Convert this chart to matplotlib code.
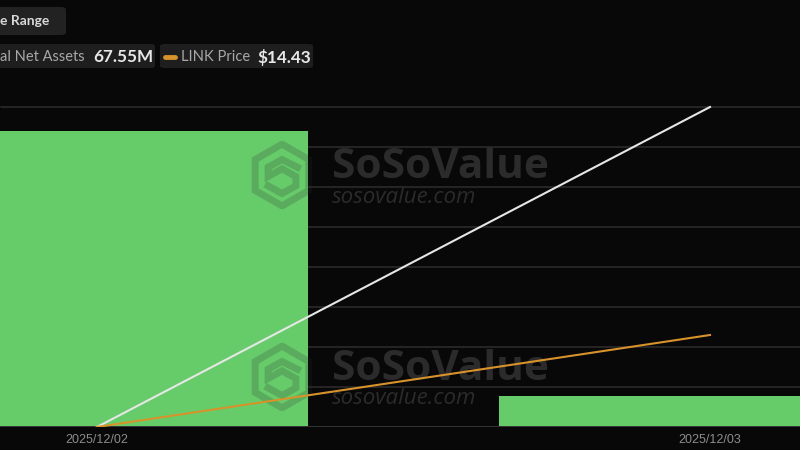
import matplotlib

matplotlib.use("Agg")
import matplotlib.pyplot as plt
from matplotlib.patches import FancyBboxPatch, Polygon

plt.rcParams["font.family"] = ["Lato", "DejaVu Sans"]

# data
dates = ["2025/12/02", "2025/12/03"]
daily_inflow_m = [37.0, 3.9]          # green bars, $M
total_net_assets_m = [0.0, 67.55]     # white line, $M
link_price = [13.60, 14.43]           # orange line, $

BG = "#080808"
GRID = "#2a2a2a"
GREEN = "#66cc6a"
WHITE_LINE = "#e6e6e6"
ORANGE = "#d8922a"
WM = "#2b2b2b"

W, H = 800, 450


def fx(px):
    return px / W


def fy(py):
    return 1 - py / H


fig = plt.figure(figsize=(8, 4.5), dpi=100)
fig.patch.set_facecolor(BG)

# plot area: x=0..800 px, baseline at y=427, axis top at y=87
ax = fig.add_axes([0, fy(427), 1, (427 - 87) / H])
ax.set_zorder(0)
ax.set_facecolor(BG)
x = list(range(len(dates)))
ax.set_xlim(-97 / 613, (800 - 97) / 613)
ax.set_ylim(0, 42.5)
ax.set_yticks([5 * i for i in range(9)])
ax.yaxis.grid(True, color=GRID, linewidth=1.2, zorder=0)
ax.set_axisbelow(True)
ax.bar(x, daily_inflow_m, width=422 / 613, color=GREEN, zorder=2)
ax.axhline(0, color="#333333", linewidth=1.4, zorder=3)
ax.tick_params(axis="y", left=False, labelleft=False)
ax.tick_params(axis="x", length=0, pad=5, colors="#8c8c8c")
ax.set_xticks(x)
ax.set_xticklabels(dates, fontsize=9, family=["Liberation Sans", "DejaVu Sans"])
for s in ax.spines.values():
    s.set_visible(False)

# white line: total net assets
ax2 = ax.twinx()
ax2.set_zorder(5)
ax2.set_ylim(0, 67.55 * 8.5 / 8)
ax2.plot(x, total_net_assets_m, color=WHITE_LINE, linewidth=1.5)
ax2.axis("off")

# orange line: LINK price
ax3 = ax.twinx()
ax3.set_zorder(5)
lo = link_price[0]
unit = (link_price[1] - lo) / 2.3
ax3.set_ylim(lo, lo + 8.5 * unit)
ax3.plot(x, link_price, color=ORANGE, linewidth=1.5)
ax3.axis("off")

# watermarks (above bars, below lines)
hex_pts = [(0, 1), (0.866, 0.5), (0.866, -0.5), (0, -1), (-0.866, -0.5), (-0.866, 0.5)]
s_path = [(0.5, 0.25), (0.0, 0.5), (-0.45, 0.25), (-0.45, -0.05), (0.0, 0.2),
          (0.45, -0.05), (0.45, -0.35), (0.0, -0.6), (-0.45, -0.35)]
for cy in (175, 377):
    lax = fig.add_axes([fx(282 - 34), fy(cy + 34), 68 / W, 68 / H])
    lax.set_zorder(2)
    lax.set_xlim(-1.1, 1.1)
    lax.set_ylim(-1.1, 1.1)
    lax.axis("off")
    lax.patch.set_visible(False)
    lax.add_patch(Polygon(hex_pts, closed=True, facecolor="none",
                          edgecolor=WM, linewidth=5, alpha=0.2))
    lax.plot([p[0] for p in s_path], [p[1] for p in s_path], color=WM,
             linewidth=5, alpha=0.2, solid_joinstyle="miter")
    fig.text(fx(332), fy(cy - 8), "SoSoValue", fontsize=30.5, fontweight="bold",
             family=["Open Sans", "Lato", "DejaVu Sans"],
             color=WM, ha="left", va="center", zorder=2)
    fig.text(fx(332), fy(cy + 22), "sosovalue.com", fontsize=16, style="italic",
             family=["Open Sans", "Lato", "DejaVu Sans"],
             color=WM, ha="left", va="center", zorder=2)

# header: date range button
fig.add_artist(FancyBboxPatch((fx(-20), fy(35)), fx(86), (35 - 7) / H,
                              boxstyle="round,pad=0,rounding_size=0.006",
                              transform=fig.transFigure, facecolor="#222222",
                              edgecolor="none"))
fig.text(fx(0), fy(21), "e Range", fontsize=10, fontweight="bold",
         color="#d8d8d8", ha="left", va="center")

# legend chips
fig.add_artist(FancyBboxPatch((fx(-20), fy(68)), fx(175), (68 - 44) / H,
                              boxstyle="round,pad=0,rounding_size=0.005",
                              transform=fig.transFigure, facecolor="#1e1e1e",
                              edgecolor="none"))
fig.text(fx(0), fy(57), "al Net Assets", fontsize=10.5, color="#a8a8a8",
         ha="left", va="center")
fig.text(fx(93), fy(57), "67.55M", fontsize=12.3, fontweight="bold",
         color="#e8e8e8", ha="left", va="center")

fig.add_artist(FancyBboxPatch((fx(160), fy(68)), fx(153), (68 - 44) / H,
                              boxstyle="round,pad=0,rounding_size=0.005",
                              transform=fig.transFigure, facecolor="#1e1e1e",
                              edgecolor="none"))
fig.add_artist(plt.Line2D([fx(165), fx(175)], [fy(57), fy(57)],
                          transform=fig.transFigure, color=ORANGE,
                          linewidth=3.5, solid_capstyle="round"))
fig.text(fx(181), fy(57), "LINK Price", fontsize=10.6, color="#a8a8a8",
         ha="left", va="center")
fig.text(fx(257), fy(57), "$14.43", fontsize=12.3, fontweight="bold",
         color="#e8e8e8", ha="left", va="center")

fig.savefig("out.png", dpi=100, facecolor=BG)
